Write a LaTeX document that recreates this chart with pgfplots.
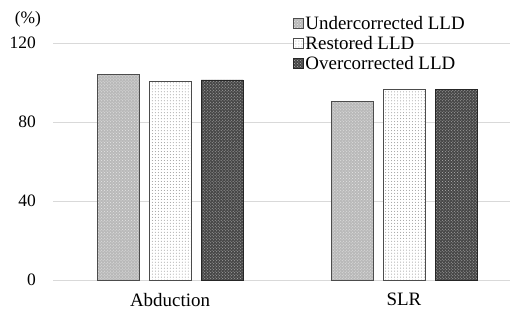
\documentclass[border=0pt]{standalone}
\usepackage{pgfplots}
\pgfplotsset{compat=1.18}
\usepackage{fontspec}
\setmainfont{Liberation Serif}
\usetikzlibrary{patterns}

\begin{document}
\begin{tikzpicture}[x=1bp,y=1bp]
\useasboundingbox (0,0) rectangle (510,310);
\begin{axis}[
  at={(53bp,30bp)}, anchor=south west,
  scale only axis, width=457bp, height=237bp,
  xmin=-0.5, xmax=1.453, ymin=0, ymax=120,
  ytick={0,40,80,120},
  xtick={0,1}, xticklabels={Abduction,SLR},
  axis line style={draw=none},
  ymajorgrids, grid style={draw=gray!30, line width=0.9bp},
  major tick length=0,
  /pgf/number format/assume math mode=true,
  yticklabel style={font=\fontsize{17.5}{20}\selectfont, anchor=east, inner sep=0pt, xshift=-17bp},
  xticklabel style={font=\fontsize{19}{22}\selectfont, anchor=north, inner sep=0pt, yshift=-13bp},
  ybar, bar width=42bp,
  legend style={at={(0.524,1.122)}, anchor=north west, draw=none, fill=none,
    font=\fontsize{19}{20}\selectfont, row sep=1.2bp, inner sep=0pt, cells={anchor=west},
    nodes={inner xsep=2bp}},
  legend image code/.code={\draw[#1] (0bp,-5bp) rectangle (10bp,5bp);},
  clip=false,
]
\addplot[bar shift=-52bp, fill=gray!55, draw=black!70, line width=0.8bp,
  postaction={pattern=crosshatch dots, pattern color=gray!20}]
  coordinates {(0,104.1) (1,90.3)};
\addplot[bar shift=0bp, fill=white, draw=black!70, line width=0.8bp,
  postaction={pattern=dots, pattern color=gray!80}]
  coordinates {(0,100.4) (1,96.7)};
\addplot[bar shift=52bp, fill=black!72, draw=black!85, line width=0.8bp,
  postaction={pattern=crosshatch dots, pattern color=gray!60}]
  coordinates {(0,101.3) (1,96.7)};
\legend{Undercorrected LLD, Restored LLD, Overcorrected LLD}
\node[font=\fontsize{17.5}{20}\selectfont, inner sep=0pt] at (axis description cs:-0.055,1.101) {(\%)};
\end{axis}
\end{tikzpicture}
\end{document}
